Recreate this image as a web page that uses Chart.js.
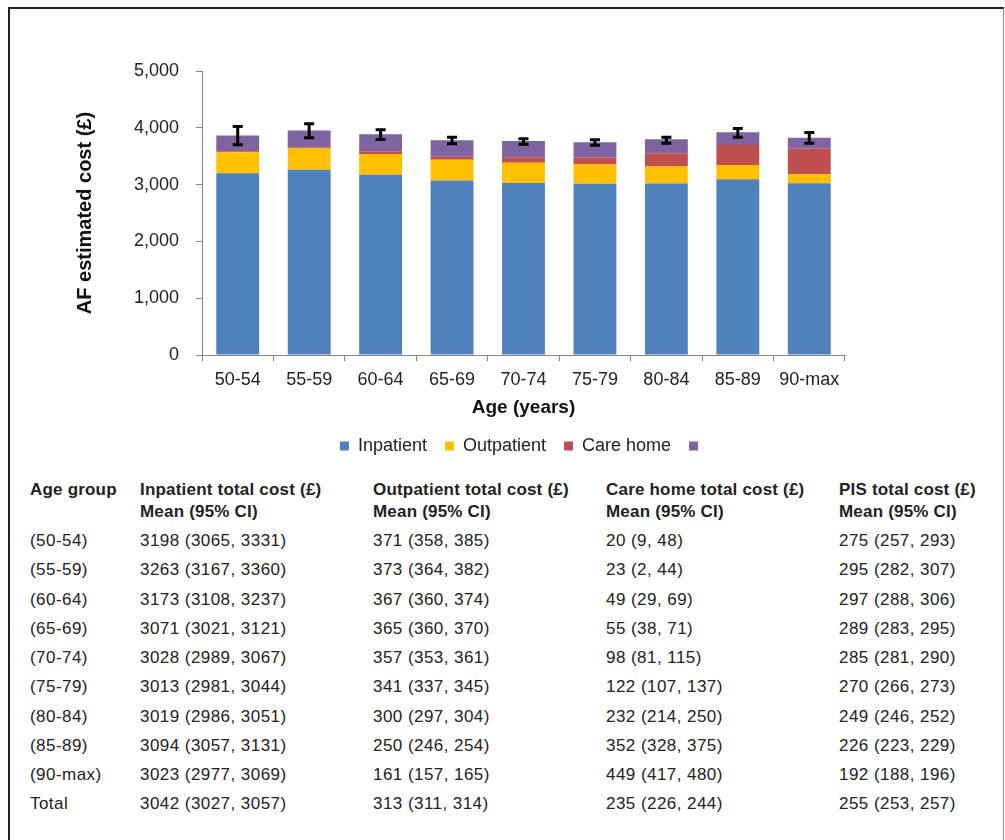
<!DOCTYPE html>
<html>
<head>
<meta charset="utf-8">
<script src="https://cdn.jsdelivr.net/npm/chart.js@4.4.1/dist/chart.umd.min.js"></script>
<style>
  html, body { margin: 0; padding: 0; background: #fff; width: 1005px; height: 840px; overflow: hidden; }
  #frame {
    position: absolute; left: 8px; top: 7px; width: 993px; height: 900px;
    border-top: 2px solid #222; border-left: 2px solid #222; border-right: 1px solid #8a8a8a;
  }
  #chartBox { position: absolute; left: 0; top: 0; width: 1005px; height: 470px; }
  .cell {
    position: absolute; white-space: nowrap; font-family: "Liberation Sans", Arial, sans-serif;
    font-size: 17px; letter-spacing: 0.45px; line-height: 20px; color: #222;
  }
  .head { font-weight: bold; letter-spacing: 0.2px; }
</style>
</head>
<body>
<div id="frame"></div>
<div id="chartBox"><canvas id="c" width="1005" height="470"></canvas></div>
<div id="table"></div>
<script>
// Age bands on the category axis and in the table
const ageGroups = ['50-54', '55-59', '60-64', '65-69', '70-74', '75-79', '80-84', '85-89', '90-max'];
const tableGroups = ['(50-54)', '(55-59)', '(60-64)', '(65-69)', '(70-74)', '(75-79)', '(80-84)', '(85-89)', '(90-max)', 'Total'];

// Mean cost (£) per component, with 95% CI; last entry is the total row
const inpatient   = [3198, 3263, 3173, 3071, 3028, 3013, 3019, 3094, 3023, 3042];
const inpatientLo = [3065, 3167, 3108, 3021, 2989, 2981, 2986, 3057, 2977, 3027];
const inpatientHi = [3331, 3360, 3237, 3121, 3067, 3044, 3051, 3131, 3069, 3057];

const outpatient   = [371, 373, 367, 365, 357, 341, 300, 250, 161, 313];
const outpatientLo = [358, 364, 360, 360, 353, 337, 297, 246, 157, 311];
const outpatientHi = [385, 382, 374, 370, 361, 345, 304, 254, 165, 314];

const careHome   = [20, 23, 49, 55, 98, 122, 232, 352, 449, 235];
const careHomeLo = [9, 2, 29, 38, 81, 107, 214, 328, 417, 226];
const careHomeHi = [48, 44, 69, 71, 115, 137, 250, 375, 480, 244];

const pis   = [275, 295, 297, 289, 285, 270, 249, 226, 192, 255];
const pisLo = [257, 282, 288, 283, 281, 266, 246, 223, 188, 253];
const pisHi = [293, 307, 306, 295, 290, 273, 252, 229, 196, 257];

// Error bar limits on the total estimated cost per age band
const totalLo = [3700, 3824, 3794, 3718, 3712, 3692, 3729, 3835, 3729];
const totalHi = [4024, 4070, 3965, 3835, 3806, 3789, 3835, 3989, 3918];

// Y axis ticks
const yTicks = [0, 1000, 2000, 3000, 4000, 5000];

const seriesLabels = ['Inpatient', 'Outpatient', 'Care home', ''];
const seriesColors = ['#4F81BD', '#FFC000', '#C0504D', '#8064A2'];

const FONT = '"Liberation Sans", Arial, sans-serif';
const n = ageGroups.length;

const errorBars = {
  id: 'errorBars',
  afterDatasetsDraw(chart) {
    const ctx = chart.ctx;
    const y = chart.scales.y;
    const meta = chart.getDatasetMeta(chart.data.datasets.length - 1);
    ctx.save();
    ctx.strokeStyle = '#000';
    ctx.lineWidth = 3;
    ctx.lineCap = 'butt';
    meta.data.forEach((bar, i) => {
      const x = bar.x;
      const yLo = y.getPixelForValue(totalLo[i]);
      const yHi = y.getPixelForValue(totalHi[i]);
      const cap = 5;
      ctx.beginPath();
      ctx.moveTo(x, yLo); ctx.lineTo(x, yHi);
      ctx.moveTo(x - cap, yLo); ctx.lineTo(x + cap, yLo);
      ctx.moveTo(x - cap, yHi); ctx.lineTo(x + cap, yHi);
      ctx.stroke();
    });
    ctx.restore();
  }
};

const series = [inpatient, outpatient, careHome, pis];

new Chart(document.getElementById('c'), {
  type: 'bar',
  data: {
    labels: ageGroups,
    datasets: series.map((s, k) => ({
      label: seriesLabels[k],
      data: s.slice(0, n),
      backgroundColor: seriesColors[k],
      borderWidth: 0,
      barPercentage: 0.6,
      categoryPercentage: 1.0
    }))
  },
  options: {
    responsive: false,
    animation: false,
    layout: { padding: { left: 69, right: 160, top: 71, bottom: 5 } },
    plugins: {
      tooltip: { enabled: false },
      legend: {
        position: 'bottom',
        fullSize: false,
        labels: {
          boxWidth: 9, boxHeight: 9, padding: 18,
          color: '#222',
          font: { family: FONT, size: 18 }
        }
      }
    },
    scales: {
      x: {
        stacked: true,
        afterFit(scale) { scale.height = 64; },
        grid: { display: true, drawOnChartArea: false, offset: true, tickLength: 6, color: '#868686' },
        border: { color: '#868686', width: 1 },
        ticks: { color: '#222', font: { family: FONT, size: 18 }, padding: 8, maxRotation: 0, autoSkip: false },
        title: {
          display: true, text: 'Age (years)', color: '#111',
          font: { family: FONT, size: 19, weight: 'bold' }, padding: { top: 0, bottom: 0 }
        }
      },
      y: {
        stacked: true,
        min: 0, max: 5000,
        afterFit(scale) { scale.width = 133; },
        afterBuildTicks(scale) { scale.ticks = yTicks.map(v => ({ value: v })); },
        grid: { display: true, drawOnChartArea: false, tickLength: 6, color: '#868686' },
        border: { color: '#868686', width: 1 },
        ticks: {
          color: '#222', font: { family: FONT, size: 18 }, padding: 17,
          callback: v => v.toLocaleString('en-US')
        },
        title: {
          display: true, text: 'AF estimated cost (£)', color: '#111',
          font: { family: FONT, size: 20, weight: 'bold' }, padding: { top: 4, bottom: 0 }
        }
      }
    }
  },
  plugins: [errorBars]
});

// Summary table beneath the chart
const table = document.getElementById('table');
const colX = [30, 140, 373, 606, 839];
function put(text, x, cy, cls) {
  const d = document.createElement('div');
  d.className = 'cell' + (cls ? ' ' + cls : '');
  d.textContent = text;
  d.style.left = x + 'px';
  d.style.top = (cy - 10) + 'px';
  table.appendChild(d);
}
const headers = [
  ['Age group', ''],
  ['Inpatient total cost (£)', 'Mean (95% CI)'],
  ['Outpatient total cost (£)', 'Mean (95% CI)'],
  ['Care home total cost (£)', 'Mean (95% CI)'],
  ['PIS total cost (£)', 'Mean (95% CI)']
];
headers.forEach((h, c) => {
  put(h[0], colX[c], 490, 'head');
  if (h[1]) put(h[1], colX[c], 512, 'head');
});
const fmt = (m, lo, hi) => `${m} (${lo}, ${hi})`;
const rowY0 = 541, rowStep = 29.25;
tableGroups.forEach((g, r) => {
  const cy = rowY0 + r * rowStep;
  put(g, colX[0], cy);
  put(fmt(inpatient[r], inpatientLo[r], inpatientHi[r]), colX[1], cy);
  put(fmt(outpatient[r], outpatientLo[r], outpatientHi[r]), colX[2], cy);
  put(fmt(careHome[r], careHomeLo[r], careHomeHi[r]), colX[3], cy);
  put(fmt(pis[r], pisLo[r], pisHi[r]), colX[4], cy);
});
</script>
</body>
</html>
